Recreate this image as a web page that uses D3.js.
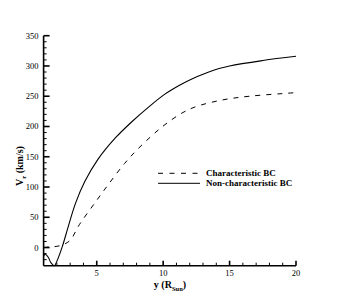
<!DOCTYPE html>
<html>
<head>
<meta charset="utf-8">
<script src="https://cdn.jsdelivr.net/npm/d3@7"></script>
<style>
body { margin: 0; background: #fff; }
</style>
</head>
<body>
<div id="chart"></div>
<script>
// distance (R_sun)
var charX = [1, 1.5, 2, 2.5, 3, 3.7, 4.9, 5.9, 7.1, 8.1, 9.9, 11.4, 12.5, 14.5, 16.5, 19.4, 20];
var charV = [0, 1, 2, 5, 12, 38, 75, 105, 139, 163, 199, 222, 233, 244, 250, 255, 256];

var nonX = [1, 1.12, 1.35, 1.55, 1.8, 2.05, 2.4, 2.9, 3.4, 4.1, 5.1, 6.4, 7.6, 8.9, 10.1, 11.3, 12.2, 13.8, 15, 17.5, 20];
var nonV = [-14, -11, -16, -25, -30, -20, 1, 38, 73, 109, 146, 181, 207, 232, 253, 269, 279, 293, 300, 309, 316];

var xTicks = [5, 10, 15, 20];
var yTicks = [0, 50, 100, 150, 200, 250, 300, 350];
var legendNames = ["Characteristic BC", "Non-characteristic BC"];

var serif = "Liberation Serif";
var width = 337, height = 300;
var svg = d3.select("#chart").append("svg")
    .attr("width", width).attr("height", height);

var x = d3.scaleLinear().domain([1, 20]).range([43.6, 296]);
var y = d3.scaleLinear().domain([-30, 350]).range([265.7, 35.7]);

var g = svg.append("g");

// minor ticks
g.selectAll("line.xminor")
    .data(d3.range(2, 20).filter(function(v) { return v % 5 != 0; }))
    .enter().append("line")
    .attr("x1", function(d) { return x(d); }).attr("x2", function(d) { return x(d); })
    .attr("y1", y(-30)).attr("y2", y(-30) - 3)
    .style("stroke", "#000").style("stroke-width", 1);
g.selectAll("line.yminor")
    .data(d3.range(-20, 350, 10).filter(function(v) { return v % 50 != 0; }))
    .enter().append("line")
    .attr("x1", x(1)).attr("x2", x(1) + 3)
    .attr("y1", function(d) { return y(d); }).attr("y2", function(d) { return y(d); })
    .style("stroke", "#000").style("stroke-width", 1);

// major ticks
g.selectAll("line.xmajor")
    .data(xTicks).enter().append("line")
    .attr("x1", function(d) { return x(d); }).attr("x2", function(d) { return x(d); })
    .attr("y1", y(-30)).attr("y2", y(-30) - 5)
    .style("stroke", "#000").style("stroke-width", 1.6);
g.selectAll("line.ymajor")
    .data(yTicks).enter().append("line")
    .attr("x1", x(1)).attr("x2", x(1) + 6)
    .attr("y1", function(d) { return y(d); }).attr("y2", function(d) { return y(d); })
    .style("stroke", "#000").style("stroke-width", 1.6);

// axis lines
g.append("line").attr("x1", x(1)).attr("x2", x(1)).attr("y1", y(350)).attr("y2", y(-30))
    .style("stroke", "#000").style("stroke-width", 1.6);
g.append("line").attr("x1", x(1)).attr("x2", x(20)).attr("y1", y(-30)).attr("y2", y(-30))
    .style("stroke", "#000").style("stroke-width", 1.6);

// tick labels
g.selectAll("text.xl")
    .data(xTicks).enter().append("text")
    .attr("x", function(d) { return x(d); })
    .attr("y", y(-30) + 10)
    .attr("text-anchor", "middle")
    .style("font-family", serif)
    .style("font-size", "8.5px")
    .text(function(d) { return d; });
g.selectAll("text.yl")
    .data(yTicks).enter().append("text")
    .attr("x", x(1) - 5)
    .attr("y", function(d) { return y(d) + 3; })
    .attr("text-anchor", "end")
    .style("font-family", serif)
    .style("font-size", "8.5px")
    .text(function(d) { return d; });

// axis titles
var xt = g.append("text")
    .attr("x", 170).attr("y", 288)
    .attr("text-anchor", "middle")
    .style("font-family", serif)
    .style("font-size", "10px").style("font-weight", "bold");
xt.append("tspan").text("y (R");
xt.append("tspan").attr("dy", 3).style("font-size", "6.5px").text("Sun");
xt.append("tspan").attr("dy", -3).text(")");

var yt = g.append("text")
    .attr("transform", "translate(23,166) rotate(-90)")
    .attr("text-anchor", "middle")
    .style("font-family", serif)
    .style("font-size", "10px").style("font-weight", "bold");
yt.append("tspan").text("V");
yt.append("tspan").attr("dy", 3).style("font-size", "6.5px").text("r");
yt.append("tspan").attr("dy", -3).text(" (km/s)");

// curves
var line = d3.line()
    .x(function(d) { return x(d[0]); })
    .y(function(d) { return y(d[1]); })
    .curve(d3.curveCatmullRom);

g.append("path")
    .datum(d3.zip(charX, charV))
    .attr("d", line)
    .style("fill", "none").style("stroke", "#000").style("stroke-width", 1)
    .style("stroke-dasharray", "5,6");
g.append("path")
    .datum(d3.zip(nonX, nonV))
    .attr("d", line)
    .style("fill", "none").style("stroke", "#000").style("stroke-width", 1.1);

// legend
var leg = g.selectAll("g.leg")
    .data(legendNames).enter().append("g")
    .attr("transform", function(d, i) { return "translate(158," + (173.3 + i * 10) + ")"; });
leg.append("line")
    .attr("x1", 0).attr("x2", 42).attr("y1", 0).attr("y2", 0)
    .style("stroke", "#000").style("stroke-width", 1)
    .style("stroke-dasharray", function(d, i) { return i == 0 ? "5,6.5" : null; });
leg.append("text")
    .attr("x", 48).attr("y", 3)
    .style("font-family", serif)
    .style("font-size", "9px").style("font-weight", "bold")
    .text(function(d) { return d; });
</script>
</body>
</html>
